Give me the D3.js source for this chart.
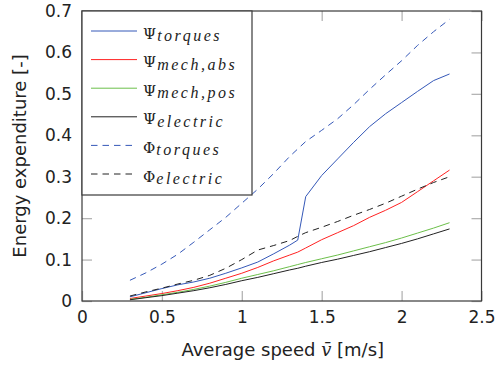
<!DOCTYPE html>
<html>
<head>
<meta charset="utf-8">
<script src="https://cdn.jsdelivr.net/npm/d3@7"></script>
<style>
  body { margin: 0; background: #fff; }
  svg { display: block; }
  .tick text { font-family: "DejaVu Sans", sans-serif; font-size: 17px; fill: #222; }
</style>
</head>
<body>
<div id="chart"></div>
<script>
"use strict";

// average speed [m/s]
const speeds = [0.3, 0.4, 0.5, 0.6, 0.7, 0.8, 0.9, 1.0, 1.1, 1.2, 1.3, 1.35, 1.4, 1.5, 1.6, 1.7, 1.8, 1.9, 2.0, 2.1, 2.2, 2.3];

const psiTorques = [0.010, 0.020, 0.030, 0.039, 0.046, 0.055, 0.067, 0.080, 0.094, 0.114, 0.135, 0.147, 0.252, 0.303, 0.343, 0.383, 0.421, 0.452, 0.479, 0.506, 0.532, 0.548];
const psiMechAbs = [0.006, 0.012, 0.018, 0.025, 0.033, 0.043, 0.055, 0.067, 0.081, 0.097, 0.111, 0.118, 0.128, 0.148, 0.165, 0.182, 0.202, 0.219, 0.238, 0.264, 0.290, 0.316];
const psiMechPos = [0.004, 0.009, 0.015, 0.021, 0.028, 0.036, 0.045, 0.055, 0.064, 0.073, 0.083, 0.088, 0.093, 0.102, 0.111, 0.121, 0.131, 0.141, 0.152, 0.164, 0.176, 0.189];
const psiElectric = [0.003, 0.008, 0.013, 0.019, 0.025, 0.032, 0.040, 0.049, 0.057, 0.066, 0.075, 0.079, 0.084, 0.093, 0.101, 0.110, 0.119, 0.129, 0.139, 0.150, 0.162, 0.174];
const phiTorques = [0.050, 0.068, 0.089, 0.113, 0.142, 0.172, 0.202, 0.236, 0.270, 0.308, 0.349, 0.367, 0.385, 0.412, 0.440, 0.474, 0.511, 0.546, 0.580, 0.617, 0.650, 0.680];
const phiElectric = [0.012, 0.022, 0.031, 0.041, 0.050, 0.062, 0.079, 0.100, 0.123, 0.134, 0.146, 0.156, 0.165, 0.178, 0.192, 0.207, 0.221, 0.236, 0.253, 0.270, 0.286, 0.300];

const xTicks = [0, 0.5, 1, 1.5, 2, 2.5];
const yTicks = [0, 0.1, 0.2, 0.3, 0.4, 0.5, 0.6, 0.7];

const series = [
  { sym: "\u03A8", sub: "torques", values: psiTorques, color: "#3558b8", dash: null },
  { sym: "\u03A8", sub: "mech,abs", values: psiMechAbs, color: "#ff2222", dash: null },
  { sym: "\u03A8", sub: "mech,pos", values: psiMechPos, color: "#6cbf4a", dash: null },
  { sym: "\u03A8", sub: "electric", values: psiElectric, color: "#222222", dash: null },
  { sym: "\u03A6", sub: "torques", values: phiTorques, color: "#3558b8", dash: "6.5,5" },
  { sym: "\u03A6", sub: "electric", values: phiElectric, color: "#222222", dash: "6.5,5" },
];

const W = 497, H = 369;
const margin = { top: 11, right: 15.5, bottom: 68, left: 82 };
const width = W - margin.left - margin.right,
  height = H - margin.top - margin.bottom;

const svg = d3
  .select("#chart")
  .append("svg")
  .attr("width", W)
  .attr("height", H);

const g = svg
  .append("g")
  .attr("transform", "translate(" + margin.left + "," + margin.top + ")");

const x = d3.scaleLinear().domain([0, 2.5]).range([0, width]);
const y = d3.scaleLinear().domain([0, 0.7]).range([height, 0]);

const fmt = (d) => String(d);
const tickLen = 10;

// axes, ticks pointing inward
g.append("g")
  .attr("class", "x axis")
  .attr("transform", "translate(0," + height + ")")
  .call(d3.axisBottom(x).tickValues(xTicks).tickFormat(fmt).tickSizeInner(-tickLen).tickSizeOuter(0).tickPadding(6));

g.append("g")
  .attr("class", "x axis top")
  .call(d3.axisTop(x).tickValues(xTicks).tickFormat("").tickSizeInner(-tickLen).tickSizeOuter(0));

g.append("g")
  .attr("class", "y axis")
  .call(d3.axisLeft(y).tickValues(yTicks).tickFormat(fmt).tickSizeInner(-tickLen).tickSizeOuter(0).tickPadding(10));

g.append("g")
  .attr("class", "y axis right")
  .attr("transform", "translate(" + width + ",0)")
  .call(d3.axisRight(y).tickValues(yTicks).tickFormat("").tickSizeInner(-tickLen).tickSizeOuter(0));

g.selectAll(".axis .domain").remove();
g.selectAll(".axis .tick line").attr("stroke", "#b4b4b4").attr("stroke-width", 1.3);
g.selectAll(".x.axis .tick text").attr("dy", "0.95em");

// frame
g.append("rect")
  .attr("width", width)
  .attr("height", height)
  .attr("fill", "none")
  .attr("stroke", "#3a3a3a")
  .attr("stroke-width", 1.2);

// lines
const line = d3
  .line()
  .x((d) => x(d[0]))
  .y((d) => y(d[1]));

g.selectAll(".series")
  .data(series)
  .enter()
  .append("path")
  .attr("class", "series")
  .attr("d", (s) => line(speeds.map((v, i) => [v, s.values[i]])))
  .attr("fill", "none")
  .attr("stroke", (s) => s.color)
  .attr("stroke-width", 1)
  .attr("stroke-dasharray", (s) => s.dash);

// legend
const legend = g.append("g").attr("class", "legend");
legend
  .append("rect")
  .attr("x", 0)
  .attr("y", 0)
  .attr("width", 170)
  .attr("height", 184)
  .attr("fill", "#fff")
  .attr("stroke", "#3a3a3a")
  .attr("stroke-width", 1.2);

const rows = legend
  .selectAll(".row")
  .data(series)
  .enter()
  .append("g")
  .attr("class", "row")
  .attr("transform", (d, i) => "translate(0," + (20 + i * 28.6) + ")");

rows
  .append("line")
  .attr("x1", 9)
  .attr("x2", 55)
  .attr("stroke", (d) => d.color)
  .attr("stroke-width", 1)
  .attr("stroke-dasharray", (d) => d.dash);

const lbl = rows
  .append("text")
  .attr("x", 61)
  .attr("y", 7.5)
  .attr("fill", "#222")
  .style("font-family", "'DejaVu Serif', serif")
  .style("font-size", "15px");

lbl.append("tspan").text((d) => d.sym);
lbl
  .append("tspan")
  .attr("dy", 2.5)
  .attr("dx", 1)
  .style("font-family", "'Liberation Serif', serif")
  .style("font-style", "italic")
  .style("font-size", "16px")
  .style("letter-spacing", "2.5px")
  .text((d) => d.sub);

// axis labels
const xl = svg
  .append("text")
  .attr("x", margin.left + width / 2 + 1)
  .attr("y", 356)
  .attr("text-anchor", "middle")
  .attr("fill", "#222")
  .style("font-family", "'DejaVu Sans', sans-serif")
  .style("font-size", "18px");
xl.append("tspan").text("Average speed ");
xl.append("tspan")
  .style("font-family", "'DejaVu Serif', serif")
  .style("font-style", "italic")
  .text("v\u0304");
xl.append("tspan").text(" [m/s]");

svg
  .append("text")
  .attr("transform", "translate(26," + (margin.top + height / 2) + ") rotate(-90)")
  .attr("text-anchor", "middle")
  .attr("fill", "#222")
  .style("font-family", "'DejaVu Sans', sans-serif")
  .style("font-size", "18px")
  .text("Energy expenditure [-]");
</script>
</body>
</html>
